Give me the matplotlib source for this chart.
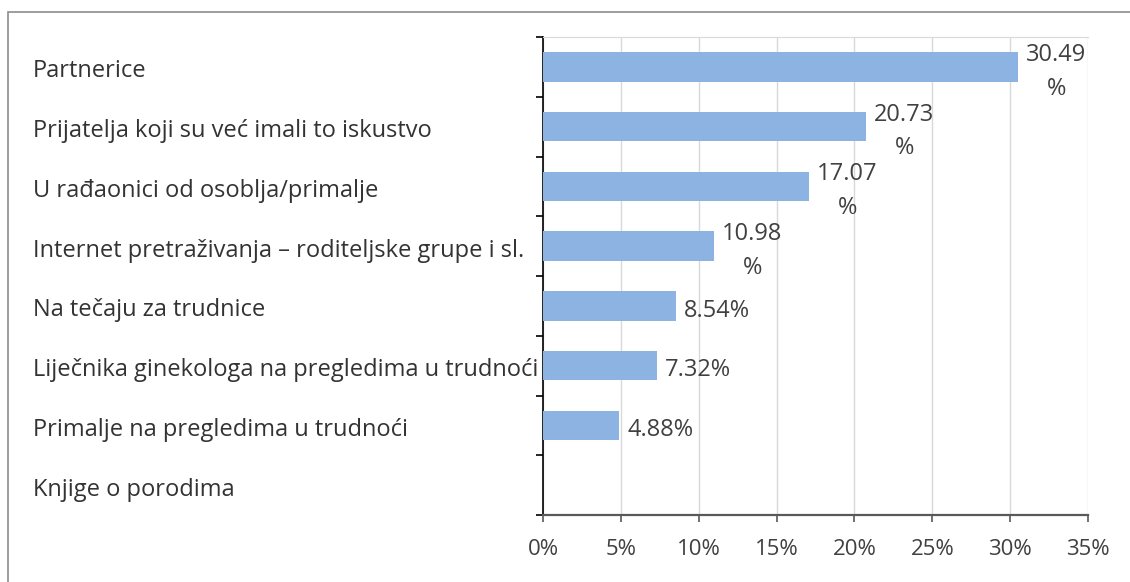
import matplotlib.pyplot as plt
from matplotlib.patches import Rectangle
from matplotlib.ticker import FixedLocator, PercentFormatter
from matplotlib.transforms import blended_transform_factory, ScaledTranslation

# Podaci
kategorije = [
    'Partnerice',
    'Prijatelja koji su već imali to iskustvo',
    'U rađaonici od osoblja/primalje',
    'Internet pretraživanja – roditeljske grupe i sl.',
    'Na tečaju za trudnice',
    'Liječnika ginekologa na pregledima u trudnoći',
    'Primalje na pregledima u trudnoći',
    'Knjige o porodima',
]
postotci = [30.49, 20.73, 17.07, 10.98, 8.54, 7.32, 4.88, 0.0]
oznake = ['30.49\n%', '20.73\n%', '17.07\n%', '10.98\n%', '8.54%', '7.32%', '4.88%', '']
x_ticks = [0, 5, 10, 15, 20, 25, 30, 35]

plt.rcParams['font.family'] = ['Open Sans', 'DejaVu Sans']

fig = plt.figure(figsize=(11.3, 5.82), dpi=100)
ax = fig.add_axes([543 / 1130, 67 / 582, 545 / 1130, 478 / 582])

y = list(range(len(kategorije)))
ax.barh(y, postotci, height=0.49, color='#8db3e3', zorder=3)

ax.set_xlim(0, 35)
ax.set_ylim(7.5, -0.5)
ax.set_xticks(x_ticks)
ax.xaxis.set_major_formatter(PercentFormatter(decimals=0))
ax.tick_params(axis='x', direction='out', length=5, width=1.2, color='#595959',
               labelsize=16, labelcolor='#404040', pad=12)

# y os: kvacice na granicama kategorija
ax.set_yticks([])
ax.yaxis.set_minor_locator(FixedLocator([i - 0.5 for i in range(len(kategorije) + 1)]))
ax.tick_params(axis='y', which='minor', direction='out', length=5, width=1.2, color='black')

ax.grid(axis='x', color='#d9d9d9', lw=1, zorder=0)
ax.spines['left'].set_color('black')
ax.spines['left'].set_linewidth(1.2)
ax.spines['bottom'].set_color('#595959')
ax.spines['bottom'].set_linewidth(1.6)
ax.spines['top'].set_color('#d9d9d9')
ax.spines['right'].set_visible(False)
ax.set_axisbelow(True)

# nazivi kategorija lijevo poravnati (malo ispod sredine trake)
trans = blended_transform_factory(fig.transFigure, ax.transData) + \
    ScaledTranslation(0, -4.5 / 100, fig.dpi_scale_trans)
for i, k in enumerate(kategorije):
    ax.text(33 / 1130, i, k, transform=trans, ha='left', va='center',
            fontsize=17, color='#333333')

# oznake vrijednosti
for i, (v, t) in enumerate(zip(postotci, oznake)):
    if not t:
        continue
    ax.annotate(t, (v, i), xytext=(6, -3.5), textcoords='offset points',
                ha='left', va='center', multialignment='center', linespacing=1.55,
                fontsize=17, color='#404040', zorder=4)

# okvir oko grafikona
fig.patches.append(Rectangle((8 / 1130, -0.1), 1.2, 1 - 12 / 582 + 0.1, transform=fig.transFigure,
                             fill=False, edgecolor='#8c8c8c', lw=1.2))

plt.savefig('out.png', dpi=100)
